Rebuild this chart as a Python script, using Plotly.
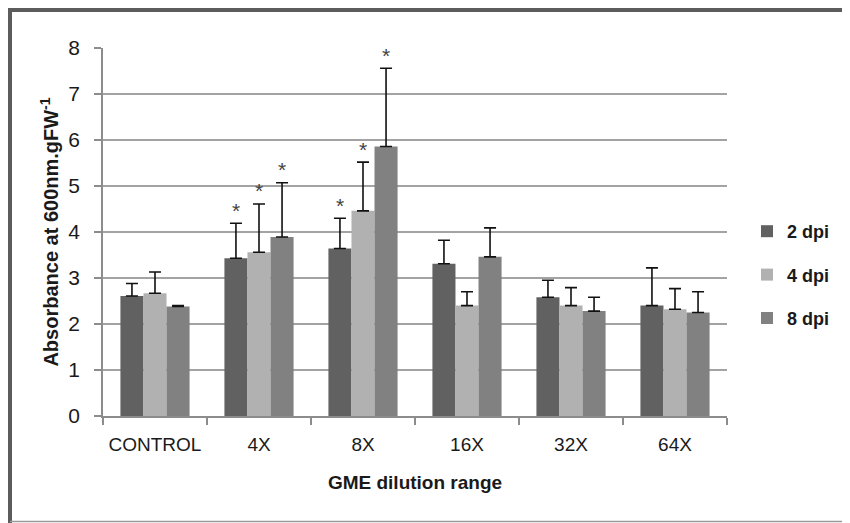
import plotly.graph_objects as go

categories = ["CONTROL", "4X", "8X", "16X", "32X", "64X"]
series_names = ["2 dpi", "4 dpi", "8 dpi"]
values_2dpi = [2.61, 3.43, 3.64, 3.31, 2.58, 2.40]
values_4dpi = [2.67, 3.56, 4.46, 2.40, 2.40, 2.32]
values_8dpi = [2.38, 3.89, 5.86, 3.46, 2.28, 2.25]
err_2dpi = [0.27, 0.76, 0.66, 0.51, 0.37, 0.82]
err_4dpi = [0.46, 1.05, 1.06, 0.30, 0.39, 0.45]
err_8dpi = [0.02, 1.18, 1.70, 0.63, 0.30, 0.45]
# significance markers (True = asterisk)
sig_2dpi = [False, True, True, False, False, False]
sig_4dpi = [False, True, True, False, False, False]
sig_8dpi = [False, True, True, False, False, False]
y_ticks = [0, 1, 2, 3, 4, 5, 6, 7, 8]

colors = ["#616161", "#b1b1b1", "#818181"]
FONT = "Liberation Sans, Arial, sans-serif"

# page is offset by the 8px body margin of the html page
OFF = 8
W, H = 850 - OFF, 523 - OFF
ML, MR, MT, MB = 103 - OFF, 123, 48 - OFF, 107
BARGAP = 0.335

values = [values_2dpi, values_4dpi, values_8dpi]
errors = [err_2dpi, err_4dpi, err_8dpi]
sigs = [sig_2dpi, sig_4dpi, sig_8dpi]

fig = go.Figure()
for i, name in enumerate(series_names):
    fig.add_trace(go.Bar(
        x=categories, y=values[i], name=name,
        marker=dict(color=colors[i], line=dict(width=0)),
        error_y=dict(type="data", array=errors[i], symmetric=False,
                     arrayminus=[0] * len(categories),
                     color="#111111", thickness=1.6, width=6),
        legendgroup=name,
    ))

# asterisks above error bars
bw = (1 - BARGAP) / 3
annotations = []
for i in range(3):
    for j, c in enumerate(categories):
        if sigs[i][j]:
            annotations.append(dict(
                x=j + (i - 1) * bw, y=values[i][j] + errors[i][j],
                xref="x", yref="y", text="*", showarrow=False,
                yanchor="middle", yshift=13,
                font=dict(family=FONT, size=21, color="#444444")))

pw = W - ML - MR
ph = H - MT - MB
def px_x(p):  # page pixel -> paper
    return (p - OFF - ML) / pw
def px_y(p):
    return (H - MB - (p - OFF)) / ph

shapes = [
    dict(type="line", xref="paper", yref="paper", x0=px_x(8), x1=px_x(852),
         y0=px_y(10), y1=px_y(10), line=dict(color="#5c5c5c", width=4)),
    dict(type="line", xref="paper", yref="paper", x0=px_x(10), x1=px_x(10),
         y0=px_y(8), y1=px_y(525), line=dict(color="#5c5c5c", width=4)),
    dict(type="line", xref="paper", yref="paper", x0=px_x(10), x1=px_x(852),
         y0=px_y(521.5), y1=px_y(521.5), line=dict(color="#9a9a9a", width=1.5)),
]

fig.update_layout(
    width=W, height=H,
    margin=dict(l=ML, r=MR, t=MT, b=MB, autoexpand=False),
    paper_bgcolor="white", plot_bgcolor="white",
    barmode="group", bargap=BARGAP, bargroupgap=0,
    font=dict(family=FONT, color="#1a1a1a"),
    showlegend=True,
    legend=dict(x=px_x(747), y=px_y(275), xanchor="left", yanchor="middle",
                font=dict(family=FONT, size=18, color="#1a1a1a", weight="bold"),
                tracegroupgap=17, itemclick=False, bgcolor="rgba(0,0,0,0)"),
    annotations=annotations,
    shapes=shapes,
    xaxis=dict(
        showgrid=False, showline=True, linecolor="#8c8c8c", linewidth=1.5,
        ticks="outside", tickson="boundaries", ticklen=7, tickcolor="#8c8c8c",
        tickwidth=1.5, tickfont=dict(family=FONT, size=19, color="#1a1a1a"),
        ticklabelstandoff=10,
        title=dict(text="<b>GME dilution range</b>", standoff=22,
                   font=dict(family=FONT, size=19, color="#1a1a1a")),
    ),
    yaxis=dict(
        range=[0, 8], tickvals=y_ticks, showgrid=True, gridcolor="#a3a3a3",
        gridwidth=1.5, zeroline=False, showline=True, linecolor="#8c8c8c",
        linewidth=1.5, ticks="outside", ticklen=7, tickcolor="#8c8c8c",
        tickwidth=1.5, tickfont=dict(family=FONT, size=21, color="#1a1a1a"),
        ticklabelstandoff=10,
        title=dict(text="<b>Absorbance at 600nm.gFW<sup>-1</sup></b>", standoff=4,
                   font=dict(family=FONT, size=20, color="#1a1a1a")),
    ),
)

fig.write_html("out.html")
